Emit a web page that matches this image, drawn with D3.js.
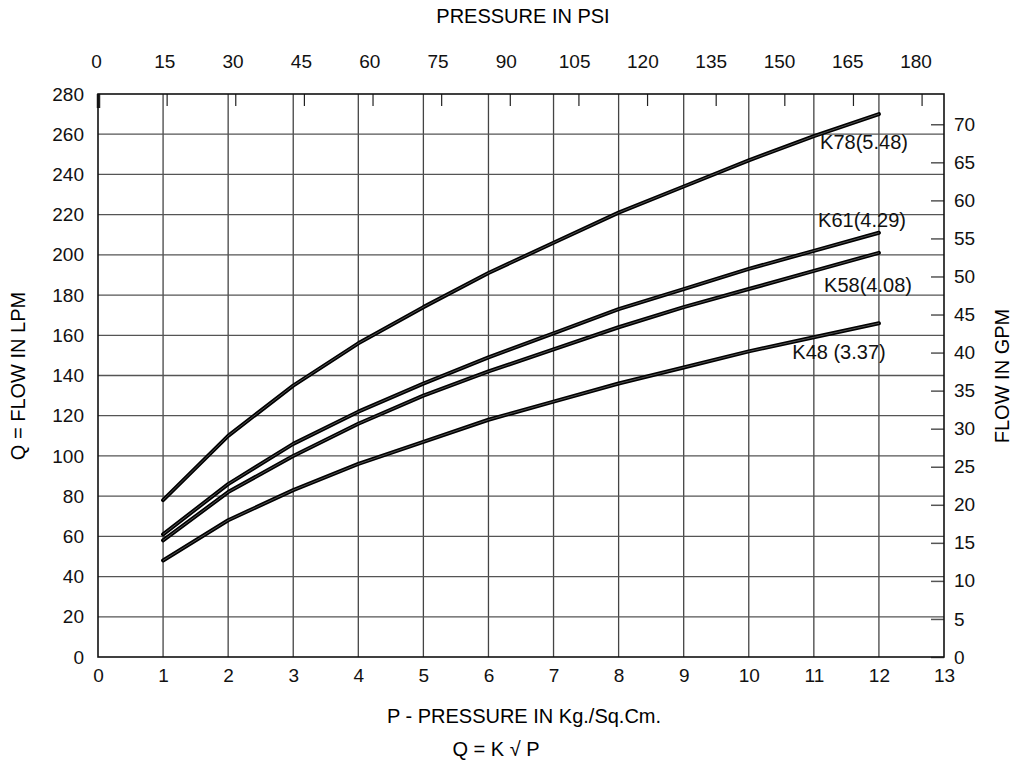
<!DOCTYPE html>
<html lang="en">
<head>
<meta charset="utf-8">
<style>
 body { margin: 0; background: #fff; }
 svg { font-family: "Liberation Sans", Arial, sans-serif; }
 .tick text { font-size: 19px; fill: #111; }
</style>
<script src="https://d3js.org/d3.v7.min.js"></script>
</head>
<body>
<svg width="1014" height="762"></svg>
<script>

// pressure in Kg/Sq.Cm
var pressure = [1, 2, 3, 4, 5, 6, 7, 8, 9, 10, 11, 12];

// flow in LPM
var k78 = [78, 110, 135, 156, 174, 191, 206, 221, 234, 247, 259, 270];
var k61 = [61, 86, 106, 122, 136, 149, 161, 173, 183, 193, 202, 211];
var k58 = [58, 82, 100, 116, 130, 142, 153, 164, 174, 183, 192, 201];
var k48 = [48, 68, 83, 96, 107, 118, 127, 136, 144, 152, 159, 166];

var curveNames = ["K78(5.48)", "K61(4.29)", "K58(4.08)", "K48 (3.37)"];

var kgTicks = d3.range(0, 14);
var lpmTicks = d3.range(0, 281, 20);
var psiTicks = d3.range(0, 181, 15);
var gpmTicks = d3.range(0, 71, 5);

var svg = d3.select("svg");
var plotL = 98, plotR = 944, plotT = 94, plotB = 657;

var x = d3.scaleLinear().domain([0, 13]).range([plotL, plotR]);
var y = d3.scaleLinear().domain([0, 280]).range([plotB, plotT]);
// psi -> kg/cm2 and gpm -> lpm conversions
var xPsi = d3.scaleLinear().domain([0, 13 * 14.223]).range([plotL, plotR]);
var yGpm = d3.scaleLinear().domain([0, 280 / 3.785]).range([plotB, plotT]);

// grid
svg.append("g").selectAll("line")
  .data(kgTicks.slice(1, 13))
  .enter().append("line")
    .attr("x1", function(d) { return x(d); })
    .attr("x2", function(d) { return x(d); })
    .attr("y1", plotT).attr("y2", plotB)
    .attr("stroke", "#444").attr("stroke-width", 1.3);

svg.append("g").selectAll("line")
  .data(lpmTicks.slice(1, 14))
  .enter().append("line")
    .attr("y1", function(d) { return y(d); })
    .attr("y2", function(d) { return y(d); })
    .attr("x1", plotL).attr("x2", plotR)
    .attr("stroke", "#555").attr("stroke-width", 1.3);

// bottom axis
var gx = svg.append("g")
  .attr("transform", "translate(0," + plotB + ")")
  .call(d3.axisBottom(x).tickValues(kgTicks).tickSize(0).tickPadding(12));
gx.select(".domain").remove();

// left axis
var gy = svg.append("g")
  .attr("transform", "translate(" + plotL + ",0)")
  .call(d3.axisLeft(y).tickValues(lpmTicks).tickSize(0).tickPadding(14));
gy.select(".domain").remove();

// top axis (psi)
var gt = svg.append("g")
  .attr("transform", "translate(0," + plotT + ")")
  .call(d3.axisTop(xPsi).tickValues(psiTicks).tickSize(-12).tickPadding(26));
gt.select(".domain").remove();
gt.selectAll(".tick line").attr("stroke", "#222").attr("stroke-width", 1.2);
gt.selectAll(".tick text").attr("dx", function(d) { return -2 - d / 45; });
gt.selectAll(".tick").filter(function(d) { return d === 0; })
  .select("line").attr("stroke-width", 3.5).attr("y2", 14);

// right axis (gpm)
var gr = svg.append("g")
  .attr("transform", "translate(" + plotR + ",0)")
  .call(d3.axisRight(yGpm).tickValues(gpmTicks).tickSize(-13).tickPadding(22));
gr.select(".domain").remove();
gr.selectAll(".tick line").attr("stroke", "#555").attr("stroke-width", 1.5);
gr.selectAll(".tick text").attr("dx", -12);

// frame
svg.append("rect")
  .attr("x", plotL).attr("y", plotT)
  .attr("width", plotR - plotL).attr("height", plotB - plotT)
  .attr("fill", "none").attr("stroke", "#111").attr("stroke-width", 1.6);

// curves
var line = d3.line()
  .x(function(d, i) { return x(pressure[i]); })
  .y(function(d) { return y(d); });

[k78, k61, k58, k48].forEach(function(s) {
  svg.append("path").datum(s)
    .attr("d", line).attr("fill", "none")
    .attr("stroke", "#000").attr("stroke-width", 4)
    .attr("stroke-linejoin", "round").attr("stroke-linecap", "round");
  svg.append("path").datum(s)
    .attr("d", line).attr("fill", "none")
    .attr("stroke", "#666").attr("stroke-width", 0.8);
});

// curve labels
var labelPos = [[864, 149], [862, 227], [868, 292], [839, 359]];
svg.append("g").selectAll("text")
  .data(curveNames)
  .enter().append("text")
    .attr("x", function(d, i) { return labelPos[i][0]; })
    .attr("y", function(d, i) { return labelPos[i][1]; })
    .attr("text-anchor", "middle")
    .attr("font-size", 20).attr("fill", "#111")
    .text(function(d) { return d; });

// axis titles
svg.append("text").attr("x", 523).attr("y", 23)
  .attr("text-anchor", "middle").attr("font-size", 20)
  .text("PRESSURE IN PSI");
svg.append("text").attr("x", 524).attr("y", 723)
  .attr("text-anchor", "middle").attr("font-size", 20)
  .text("P - PRESSURE IN Kg./Sq.Cm.");
svg.append("text").attr("x", 496).attr("y", 756)
  .attr("text-anchor", "middle").attr("font-size", 20)
  .text("Q = K \u221A P");
svg.append("text")
  .attr("transform", "translate(25,376) rotate(-90)")
  .attr("text-anchor", "middle").attr("font-size", 20)
  .text("Q = FLOW IN LPM");
svg.append("text")
  .attr("transform", "translate(1009,376) rotate(-90)")
  .attr("text-anchor", "middle").attr("font-size", 20)
  .text("FLOW IN GPM");

</script>
</body>
</html>
